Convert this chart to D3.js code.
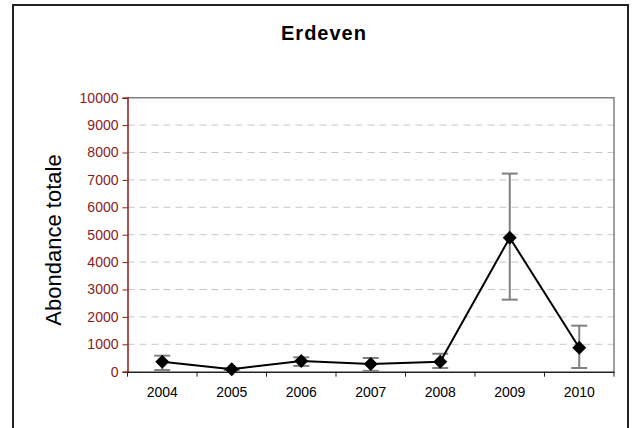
<html>
<head>
<script src="https://d3js.org/d3.v7.min.js"></script>
<style>
body{margin:0;background:#fff;}
svg{display:block;}
</style>
</head>
<body>
<div class="chart"></div>
<script>
const years = ['2004', '2005', '2006', '2007', '2008', '2009', '2010'];
const abundance = [365, 90, 390, 280, 365, 4890, 876];
const errHigh = [585, 120, 525, 500, 655, 7230, 1680];
const errLow = [60, 60, 210, 30, 135, 2630, 135];
const yTicks = [0, 1000, 2000, 3000, 4000, 5000, 6000, 7000, 8000, 9000, 10000];

const W = 637, H = 428;
const plot = {left: 127.5, right: 614, top: 97.7, bottom: 371.7};
const red = '#8b1a1a';
const font = "'Liberation Sans', Arial, sans-serif";

const svg = d3.select('.chart').append('svg')
    .attr('width', W)
    .attr('height', H);

// outer frame
svg.append('rect')
    .attr('x', 13).attr('y', 5)
    .attr('width', 615).attr('height', 440)
    .attr('fill', 'none')
    .attr('stroke', '#222')
    .attr('stroke-width', 2);

svg.append('text')
    .attr('x', 324).attr('y', 40)
    .attr('text-anchor', 'middle')
    .attr('font-family', font)
    .attr('font-weight', 'bold')
    .attr('font-size', 20)
    .attr('letter-spacing', 1)
    .text('Erdeven');

const x = d3.scaleBand()
    .domain(years)
    .range([plot.left, plot.right]);

const y = d3.scaleLinear()
    .domain([0, 10000])
    .range([plot.bottom, plot.top]);

// grid
svg.append('g')
    .selectAll('line')
    .data(yTicks.filter(d => d > 0 && d < 10000))
    .join('line')
        .attr('x1', plot.left).attr('x2', plot.right)
        .attr('y1', d => y(d)).attr('y2', d => y(d))
        .attr('stroke', '#c8c8c8')
        .attr('stroke-dasharray', '7,5');

// plot border top/right
svg.append('path')
    .attr('d', `M${plot.left},${y(10000)}H${plot.right}V${plot.bottom}`)
    .attr('fill', 'none')
    .attr('stroke', '#808080')
    .attr('stroke-width', 1.5);

// y axis
const yAxis = svg.append('g')
    .attr('transform', `translate(${plot.left},0)`)
    .call(d3.axisLeft(y).tickValues(yTicks).tickSize(5).tickPadding(4).tickFormat(d3.format('d')));
yAxis.select('.domain').attr('stroke', red).attr('stroke-width', 1.5);
yAxis.selectAll('.tick line').attr('stroke', red);
yAxis.selectAll('.tick text')
    .attr('fill', red)
    .attr('font-family', font)
    .attr('font-size', 14);

// x axis
const xAxis = svg.append('g')
    .attr('transform', `translate(0,${plot.bottom})`)
    .call(d3.axisBottom(x).tickSize(0).tickPadding(15));
xAxis.select('.domain').attr('stroke', '#222').attr('stroke-width', 1.5);
xAxis.selectAll('.tick text')
    .attr('fill', '#000')
    .attr('font-family', font)
    .attr('font-size', 14);
svg.append('g')
    .selectAll('line')
    .data(years.concat(['end']))
    .join('line')
        .attr('x1', (d, i) => plot.left + i * x.step())
        .attr('x2', (d, i) => plot.left + i * x.step())
        .attr('y1', plot.bottom).attr('y2', plot.bottom + 5)
        .attr('stroke', '#222');

svg.append('text')
    .attr('transform', `translate(61,240) rotate(-90)`)
    .attr('text-anchor', 'middle')
    .attr('font-family', font)
    .attr('font-size', 22)
    .text('Abondance totale');

const cx = d => x(d) + x.bandwidth() / 2;

// error bars
const eb = svg.append('g')
    .attr('stroke', '#808080')
    .attr('stroke-width', 2)
    .selectAll('g')
    .data(years.map((yr, i) => ({yr, hi: errHigh[i], lo: errLow[i]})))
    .join('g');
eb.append('line')
    .attr('x1', d => cx(d.yr)).attr('x2', d => cx(d.yr))
    .attr('y1', d => y(d.hi)).attr('y2', d => y(d.lo));
eb.append('line')
    .attr('x1', d => cx(d.yr) - 8).attr('x2', d => cx(d.yr) + 8)
    .attr('y1', d => y(d.hi)).attr('y2', d => y(d.hi));
eb.append('line')
    .attr('x1', d => cx(d.yr) - 8).attr('x2', d => cx(d.yr) + 8)
    .attr('y1', d => y(d.lo)).attr('y2', d => y(d.lo));

const pts = years.map((yr, i) => ({yr, v: abundance[i]}));

svg.append('path')
    .datum(pts)
    .attr('d', d3.line().x(d => cx(d.yr)).y(d => y(d.v)))
    .attr('fill', 'none')
    .attr('stroke', '#000')
    .attr('stroke-width', 2);

svg.append('g')
    .selectAll('path')
    .data(pts)
    .join('path')
        .attr('transform', d => `translate(${cx(d.yr)},${y(d.v)})`)
        .attr('d', 'M0,-7L7,0L0,7L-7,0Z')
        .attr('fill', '#000');
</script>
</body>
</html>
